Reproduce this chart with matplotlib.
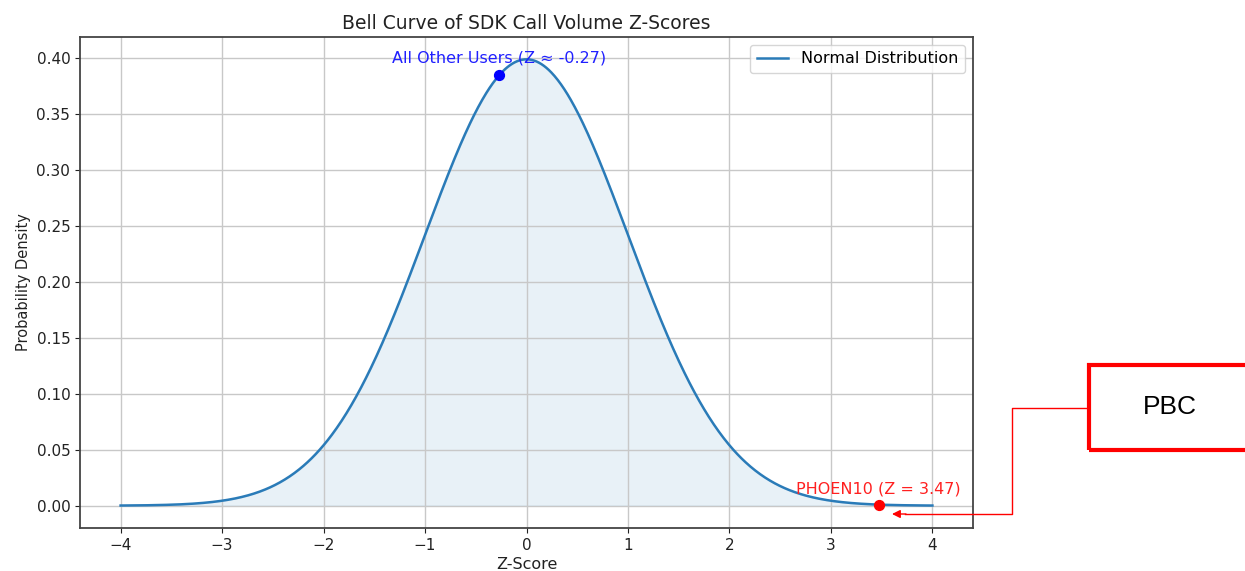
import matplotlib
matplotlib.use("Agg")
import matplotlib.pyplot as plt
import numpy as np
from matplotlib.patches import Rectangle
from matplotlib.lines import Line2D

# distribution parameters and annotated users
mu, sigma = 0.0, 1.0
z_lo, z_hi = -4, 4
other_label = "All Other Users (Z ≈ -0.27)"
other_z = -0.27
phoen_label = "PHOEN10 (Z = 3.47)"
phoen_z = 3.47
box_text = "PBC"

def pdf(z):
    return np.exp(-0.5*((z-mu)/sigma)**2)/(sigma*np.sqrt(2*np.pi))

x = np.linspace(z_lo, z_hi, 1000)
y = pdf(x)

W, H = 1245, 571
fig = plt.figure(figsize=(W/100, H/100), dpi=100)
ax = fig.add_axes([80/W, 1-528/H, 893/W, 491/H])

ax.plot(x, y, color="#2a7bb8", lw=1.8, label="Normal Distribution")
ax.fill_between(x, y, color="#1f77b4", alpha=0.1)

ax.scatter([other_z], [pdf(other_z)], color="blue", s=50, zorder=5)
ax.annotate(other_label, (other_z, pdf(other_z)), xytext=(0, 9), textcoords="offset points",
            ha="center", color="#2020ff", fontsize=11.5)
ax.scatter([phoen_z], [pdf(phoen_z)], color="red", s=50, zorder=5)
ax.annotate(phoen_label, (phoen_z, pdf(phoen_z)), xytext=(0, 8), textcoords="offset points",
            ha="center", color="#ff2020", fontsize=11.5)

ax.set_title("Bell Curve of SDK Call Volume Z-Scores", fontsize=13.5, color="#222222")
ax.set_xlabel("Z-Score", fontsize=11.5, labelpad=3, color="#222222")
ax.set_ylabel("Probability Density", fontsize=10.5, color="#222222")
ax.tick_params(labelsize=11, colors="#222222")
for s in ax.spines.values():
    s.set_color("#444444"); s.set_linewidth(1.3)
ax.grid(True, color="#c8c8c8", lw=1)
ax.legend(loc="upper right", fontsize=11.5)

# callout box drawn on top of the screenshot
fig.patches.append(Rectangle((1089/W, 1-450/H), 170/W, 85/H, transform=fig.transFigure,
                             fill=False, edgecolor="red", lw=3, joinstyle="miter", clip_on=False))
fig.text(1170/W, 1-407/H, box_text, ha="center", va="center", fontsize=19,
         family="Liberation Sans", color="black")
# connector from box to the PHOEN10 point
fig.lines.append(Line2D([1089/W, 1012/W, 1012/W, 905/W], [1-408/H, 1-408/H, 1-514/H, 1-514/H],
                        transform=fig.transFigure, color="red", lw=1))
ax.annotate("", xy=(892/W, 1-514/H), xycoords="figure fraction",
            xytext=(906/W, 1-514/H), textcoords="figure fraction",
            arrowprops=dict(arrowstyle="-|>", color="red", lw=1, mutation_scale=12,
                            shrinkA=0, shrinkB=0),
            annotation_clip=False)

plt.savefig("out.png", dpi=100)
